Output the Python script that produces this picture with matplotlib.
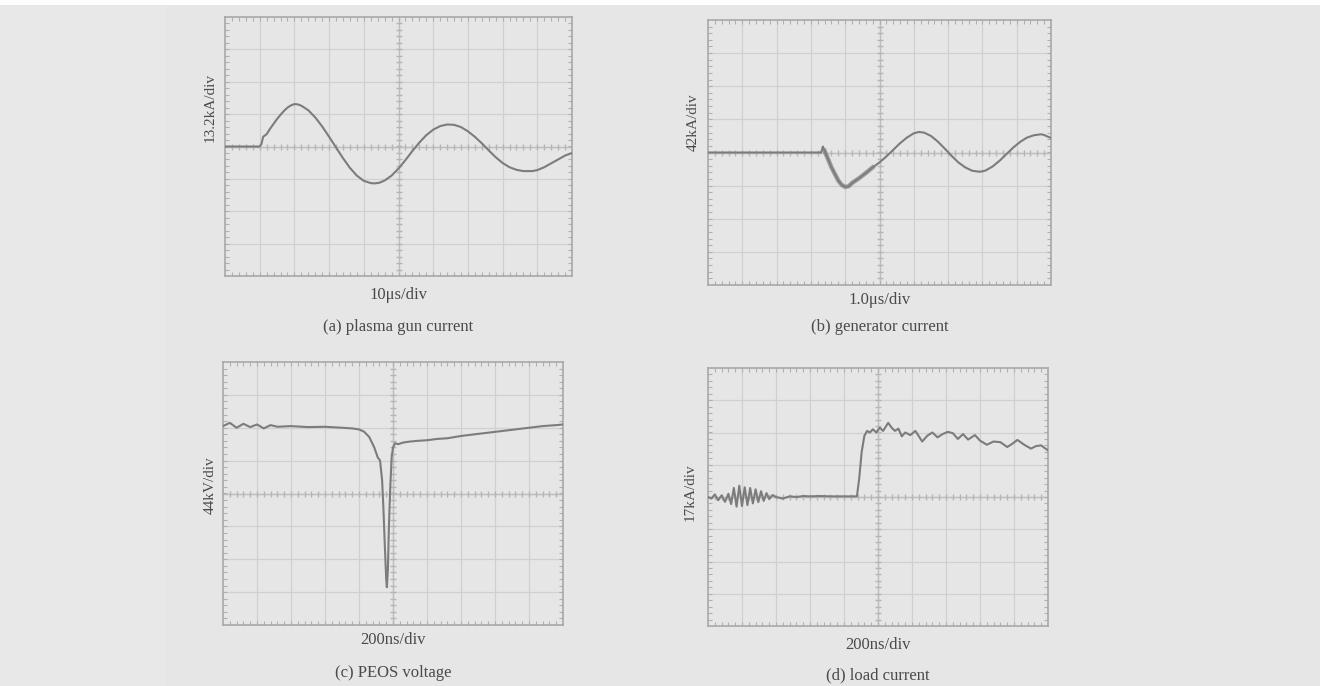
import numpy as np
import matplotlib
matplotlib.use('Agg')
import matplotlib.pyplot as plt
from matplotlib.patches import Rectangle

plt.rcParams['font.family'] = ['Liberation Serif', 'DejaVu Serif']

# traces, in divisions (x: 0..10, y: -4..4)
a_x = [0, 1.0, 1.05, 1.1, 1.2, 1.3, 1.4, 1.5, 1.6, 1.7, 1.8, 1.9, 2.0, 2.1, 2.2, 2.4, 2.6, 2.8,
       3.0, 3.2, 3.4, 3.6, 3.8, 4.0, 4.2, 4.3, 4.45, 4.6, 4.8, 5.0, 5.2, 5.4, 5.6, 5.8, 6.0, 6.2,
       6.4, 6.6, 6.8, 7.0, 7.2, 7.4, 7.6, 7.8, 8.0, 8.2, 8.4, 8.6, 8.85, 9.0, 9.2, 9.4, 9.6, 9.8, 10]
a_y = [0, 0, 0.08, 0.3, 0.38, 0.55, 0.7, 0.85, 0.98, 1.1, 1.2, 1.27, 1.31, 1.3, 1.26, 1.12, 0.9, 0.62,
       0.3, -0.03, -0.36, -0.66, -0.9, -1.06, -1.13, -1.14, -1.12, -1.05, -0.9, -0.68, -0.42, -0.14,
       0.12, 0.35, 0.52, 0.63, 0.68, 0.67, 0.6, 0.47, 0.3, 0.1, -0.12, -0.33, -0.51, -0.64, -0.72,
       -0.76, -0.76, -0.73, -0.64, -0.52, -0.4, -0.28, -0.2]

b_x = [0, 3.3, 3.35, 3.4, 3.5, 3.6, 3.7, 3.8, 3.9, 4.0, 4.1, 4.2, 4.4, 4.6, 4.8, 5.0, 5.2, 5.4,
       5.6, 5.8, 6.0, 6.15, 6.3, 6.5, 6.7, 6.9, 7.1, 7.3, 7.5, 7.7, 7.9, 8.0, 8.1, 8.3, 8.5, 8.7,
       8.9, 9.1, 9.3, 9.5, 9.7, 9.8, 9.9, 10]
b_y = [0, 0, 0.18, 0.05, -0.2, -0.45, -0.65, -0.85, -0.98, -1.04, -1.02, -0.92, -0.78, -0.62,
       -0.45, -0.3, -0.12, 0.08, 0.28, 0.45, 0.58, 0.62, 0.6, 0.5, 0.33, 0.12, -0.1, -0.3, -0.45,
       -0.55, -0.58, -0.57, -0.54, -0.42, -0.25, -0.05, 0.15, 0.32, 0.45, 0.52, 0.55, 0.53, 0.48, 0.44]

c_x = [0, 0.2, 0.4, 0.6, 0.8, 1.0, 1.2, 1.4, 1.6, 2.0, 2.5, 3.0, 3.5, 3.8, 4.0, 4.15, 4.3, 4.45,
       4.55, 4.62, 4.68, 4.72, 4.76, 4.8, 4.82, 4.85, 4.88, 4.92, 4.96, 5.0, 5.06, 5.15, 5.3, 5.5,
       5.7, 6.0, 6.3, 6.6, 7.0, 7.4, 7.8, 8.2, 8.6, 9.0, 9.4, 9.8, 10]
c_y = [2.05, 2.15, 2.0, 2.12, 2.02, 2.1, 1.98, 2.08, 2.03, 2.05, 2.02, 2.03, 2.0, 1.98, 1.95, 1.88,
       1.72, 1.4, 1.1, 1.0, 0.4, -0.5, -1.6, -2.6, -2.85, -2.3, -1.0, 0.2, 1.1, 1.4, 1.53, 1.5,
       1.55, 1.58, 1.6, 1.62, 1.66, 1.68, 1.75, 1.8, 1.85, 1.9, 1.95, 2.0, 2.05, 2.08, 2.1]

d_x = [0, 0.1, 0.2, 0.3, 0.4, 0.5, 0.6, 0.68, 0.76, 0.84, 0.92, 1.0, 1.08, 1.16, 1.24, 1.32, 1.4,
       1.48, 1.56, 1.64, 1.72, 1.8, 1.9, 2.0, 2.2, 2.4, 2.6, 2.8, 3.0, 3.3, 3.6, 3.9, 4.2, 4.38,
       4.45, 4.52, 4.6, 4.68, 4.76, 4.85, 4.95, 5.05, 5.15, 5.3, 5.4, 5.5, 5.6, 5.7, 5.8, 5.95,
       6.1, 6.3, 6.45, 6.6, 6.75, 6.9, 7.05, 7.2, 7.35, 7.5, 7.65, 7.85, 8.0, 8.2, 8.4, 8.6, 8.8,
       8.95, 9.1, 9.3, 9.5, 9.65, 9.8, 9.9, 10]
d_y = [0, -0.05, 0.08, -0.1, 0.05, -0.15, 0.1, -0.22, 0.28, -0.3, 0.35, -0.28, 0.3, -0.25, 0.28,
       -0.2, 0.24, -0.16, 0.18, -0.12, 0.12, -0.06, 0.06, 0, -0.05, 0.02, 0.0, 0.03, 0.02, 0.03,
       0.02, 0.02, 0.02, 0.02, 0.6, 1.4, 1.9, 2.05, 2.0, 2.1, 2.0, 2.15, 2.05, 2.3, 2.15, 2.05,
       2.12, 1.88, 2.0, 1.92, 2.05, 1.72, 1.9, 2.0, 1.85, 1.95, 2.02, 1.98, 1.8, 1.95, 1.78, 1.92,
       1.75, 1.62, 1.72, 1.7, 1.55, 1.65, 1.77, 1.62, 1.5, 1.58, 1.6, 1.52, 1.45]

y_labels = ['13.2kA/div', '42kA/div', '44kV/div', '17kA/div']
x_labels = ['10\u03bcs/div', '1.0\u03bcs/div', '200ns/div', '200ns/div']
captions = ['(a) plasma gun current', '(b) generator current', '(c) PEOS voltage', '(d) load current']

W, H = 1331, 686
fig = plt.figure(figsize=(W / 100, H / 100), dpi=100)
fig.patch.set_facecolor('white')
fig.patches.append(Rectangle((0, 0), 1320 / W, 681 / H, transform=fig.transFigure,
                             facecolor='#e6e6e6', edgecolor='none', zorder=-10))
fig.patches.append(Rectangle((0, 0), 165 / W, 681 / H, transform=fig.transFigure,
                             facecolor='#e8e8e8', edgecolor='none', zorder=-9))

# axes boxes in pixels: left, top, right, bottom
boxes = [(225, 17, 572, 276), (708, 20, 1051, 285), (223, 362, 563, 625), (708, 368, 1048, 626)]
ylab_pos = [(210, 108), (693, 122), (210, 485), (690, 492)]
xlab_y = [295, 300, 640, 645]
cap_y = [327, 327, 673, 675]
traces = [(a_x, a_y), (b_x, b_y), (c_x, c_y), (d_x, d_y)]

txt = '#4a4a4a'
for i, (l, t, r, b) in enumerate(boxes):
    ax = fig.add_axes([l / W, 1 - b / H, (r - l) / W, (b - t) / H])
    ax.set_facecolor('none')
    ax.set_xlim(0, 10)
    ax.set_ylim(-4, 4)
    for k in range(1, 10):
        ax.axvline(k, color='#d0d0d0', lw=0.9, zorder=1)
    for k in range(-3, 4):
        ax.axhline(k, color='#d0d0d0', lw=0.9, zorder=1)
    ax.axvline(5, color='#bdbdbd', lw=1.0, zorder=1)
    ax.axhline(0, color='#bdbdbd', lw=1.0, zorder=1)
    mt = np.arange(0.2, 10, 0.2)
    ax.plot(mt, np.zeros_like(mt), '|', ms=4, color='#b5b5b5', zorder=1)
    mt2 = np.arange(-3.8, 4, 0.2)
    ax.plot(np.full_like(mt2, 5), mt2, '_', ms=4, color='#b5b5b5', zorder=1)
    ax.set_xticks(np.arange(0.2, 10, 0.2))
    ax.set_yticks(np.arange(-3.8, 4, 0.2))
    ax.tick_params(direction='in', length=3, color='#b0b0b0', top=True, right=True,
                   labelbottom=False, labelleft=False)
    for s in ax.spines.values():
        s.set_color('#a8a8a8')
        s.set_linewidth(1.2)
    xs, ys = traces[i]
    ax.plot(xs, ys, color='#7c7c7c', lw=1.5, zorder=3, solid_joinstyle='round')
    if i == 1:
        # noisy thick part just after the drop
        ax.plot(xs[3:15], ys[3:15], color='#808080', lw=3.2, alpha=0.7, zorder=3)

    cx = (l + r) / 2
    fig.text(ylab_pos[i][0] / W, 1 - ylab_pos[i][1] / H, y_labels[i], rotation=90,
             ha='center', va='center', fontsize=11, color=txt)
    fig.text(cx / W, 1 - xlab_y[i] / H, x_labels[i], ha='center', va='center',
             fontsize=12, color=txt)
    fig.text(cx / W, 1 - cap_y[i] / H, captions[i], ha='center', va='center',
             fontsize=12, color=txt)

fig.savefig('out.png', dpi=100, facecolor=fig.get_facecolor())
